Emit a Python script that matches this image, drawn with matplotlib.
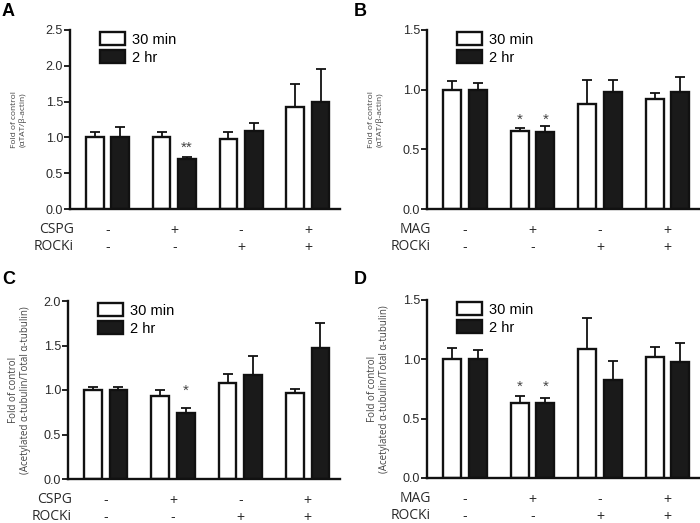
import matplotlib
matplotlib.use("Agg")
import matplotlib.pyplot as plt
from matplotlib.patches import Patch
import numpy as np

plt.rcParams['font.family'] = ['Liberation Sans', 'DejaVu Sans']

groups = [0, 1, 2, 3]
series_names = ["30 min", "2 hr"]

# Panel A
a_white = [1.00, 1.00, 0.975, 1.43]
a_white_err = [0.08, 0.08, 0.095, 0.31]
a_black = [1.00, 0.695, 1.09, 1.50]
a_black_err = [0.14, 0.035, 0.11, 0.45]
# Panel B
b_white = [1.00, 0.652, 0.88, 0.923]
b_white_err = [0.07, 0.03, 0.205, 0.045]
b_black = [1.00, 0.647, 0.98, 0.977]
b_black_err = [0.06, 0.045, 0.105, 0.125]
# Panel C
c_white = [1.00, 0.935, 1.08, 0.964]
c_white_err = [0.035, 0.065, 0.10, 0.05]
c_black = [1.00, 0.736, 1.166, 1.477]
c_black_err = [0.035, 0.065, 0.22, 0.275]
# Panel D
d_white = [1.00, 0.631, 1.09, 1.018]
d_white_err = [0.093, 0.056, 0.26, 0.082]
d_black = [1.00, 0.634, 0.827, 0.981]
d_black_err = [0.082, 0.036, 0.157, 0.154]

row1_a = ["CSPG", "-", "+", "-", "+"]
row1_b = ["MAG", "-", "+", "-", "+"]
row2 = ["ROCKi", "-", "-", "+", "+"]

ylabel_ab = "Fold of control\n(\u03b1TAT/\u03b2-actin)"
ylabel_cd = "Fold of control\n(Acetylated \u03b1-tubulin/Total \u03b1-tubulin)"

W, H = 700, 523
fig = plt.figure(figsize=(7, 5.23), dpi=100)

def px_axes(left, top, right, bottom):
    return fig.add_axes([left / W, (H - bottom) / H, (right - left) / W, (bottom - top) / H])

tc = "#2a2a2a"

def panel(ax, letter, white, werr, black, berr, ymax, yticks, row1, ylabel, ylfs, ylpad, stars, letter_xy):
    x = np.array(groups, dtype=float)
    off = 0.19
    bw = 0.265
    ax.bar(x - off, white, bw, color="white", edgecolor="#111111", linewidth=1.7, zorder=2)
    ax.bar(x + off, black, bw, color="#1a1a1a", edgecolor="#111111", linewidth=1.7, zorder=2)
    ax.errorbar(x - off, white, yerr=[np.zeros(4), werr], fmt="none", ecolor="#111111",
                elinewidth=1.3, capsize=3.5, capthick=1.3, zorder=1)
    ax.errorbar(x + off, black, yerr=[np.zeros(4), berr], fmt="none", ecolor="#111111",
                elinewidth=1.3, capsize=3.5, capthick=1.3, zorder=1)
    ax.set_xlim(-0.56, 3.48)
    ax.set_ylim(0, ymax)
    ax.set_yticks(yticks)
    ax.set_yticklabels([f"{v:.1f}" for v in yticks], fontsize=9, color=tc)
    ax.set_xticks([])
    for s in ["top", "right"]:
        ax.spines[s].set_visible(False)
    for s in ["left", "bottom"]:
        ax.spines[s].set_linewidth(1.7)
        ax.spines[s].set_color("#111111")
    ax.tick_params(axis="y", length=4, width=1.3, pad=1, color="#111111")
    ax.set_ylabel(ylabel, fontsize=ylfs, color="#444444", labelpad=ylpad, linespacing=1.1,
                  family=["Open Sans", "DejaVu Sans"])
    tr = ax.get_xaxis_transform()
    ax.text(-0.5, -0.117, row1[0], transform=tr, ha="right", va="center", fontsize=10,
            color=tc, family=["Open Sans", "DejaVu Sans"])
    ax.text(-0.5, -0.212, row2[0], transform=tr, ha="right", va="center", fontsize=10,
            color=tc, family=["Open Sans", "DejaVu Sans"])
    for i, g in enumerate(groups):
        ax.text(g, -0.117, row1[i + 1], transform=tr, ha="center", va="center", fontsize=10, color=tc)
        ax.text(g, -0.212, row2[i + 1], transform=tr, ha="center", va="center", fontsize=10, color=tc)
    for (xs, ys, txt) in stars:
        ax.text(xs, ys, txt, ha="center", va="center", fontsize=11, color="#444444")
    handles = [Patch(facecolor="white", edgecolor="#111111", linewidth=1.7),
               Patch(facecolor="#1a1a1a", edgecolor="#111111", linewidth=1.7)]
    ax.legend(handles, series_names, loc="upper left", bbox_to_anchor=(0.09, 1.02),
              frameon=False, fontsize=10.5, handlelength=1.7, handleheight=0.95,
              handletextpad=0.5, labelspacing=0.25, borderaxespad=0)
    fig.text(letter_xy[0] / W, 1 - letter_xy[1] / H, letter, fontsize=13, fontweight="bold",
             ha="left", va="center")

axA = px_axes(70, 30, 340, 209)
axB = px_axes(427, 30, 700, 209)
axC = px_axes(68, 301, 340, 479)
axD = px_axes(427, 300, 700, 478)

panel(axA, "A", a_white, a_white_err, a_black, a_black_err, 2.5,
      [0.0, 0.5, 1.0, 1.5, 2.0, 2.5], row1_a, ylabel_ab, 6, 14,
      [(1 + 0.19, 0.86, "**")], (2, 12))
panel(axB, "B", b_white, b_white_err, b_black, b_black_err, 1.5,
      [0.0, 0.5, 1.0, 1.5], row1_b, ylabel_ab, 6, 14,
      [(1 - 0.19, 0.75, "*"), (1 + 0.19, 0.75, "*")], (354, 12))
panel(axC, "C", c_white, c_white_err, c_black, c_black_err, 2.0,
      [0.0, 0.5, 1.0, 1.5, 2.0], row1_a, ylabel_cd, 7, 9,
      [(1 + 0.19, 0.99, "*")], (2, 280))
panel(axD, "D", d_white, d_white_err, d_black, d_black_err, 1.5,
      [0.0, 0.5, 1.0, 1.5], row1_b, ylabel_cd, 7, 9,
      [(1 - 0.19, 0.77, "*"), (1 + 0.19, 0.77, "*")], (354, 280))

fig.savefig("out.png", dpi=100)
